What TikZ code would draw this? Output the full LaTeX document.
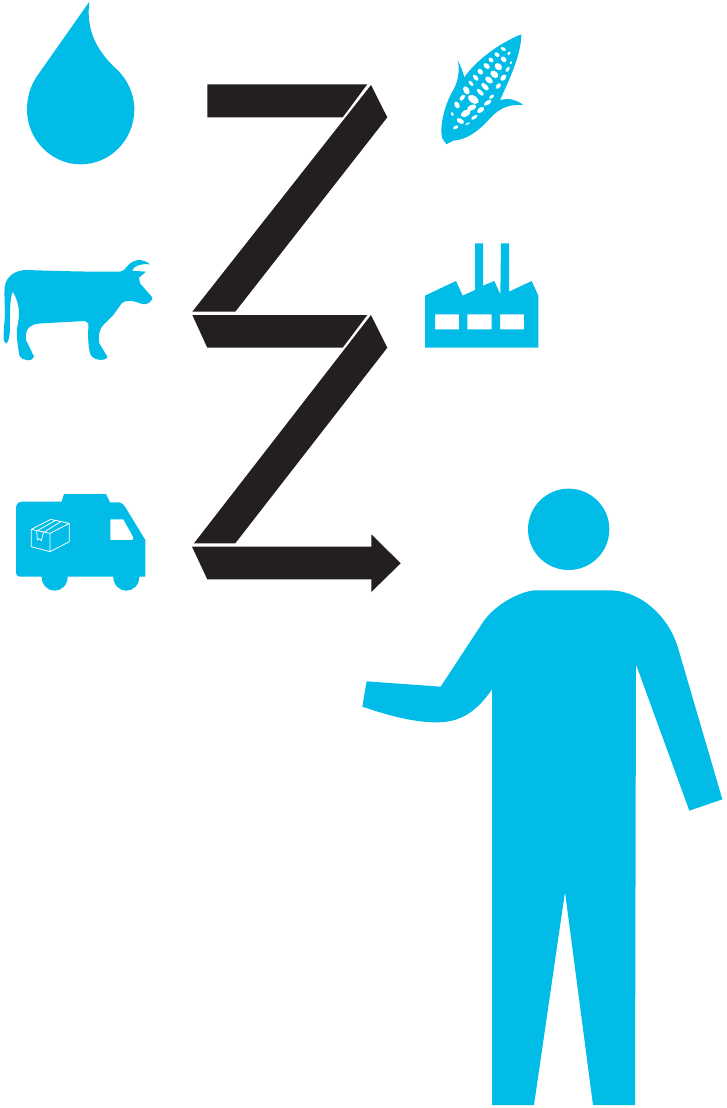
\documentclass[tikz,border=0pt]{standalone}
\definecolor{iconblue}{HTML}{00BCE7}
\definecolor{ribbon}{HTML}{231F20}
\tikzset{
  icon/.style={fill=iconblue,draw=none},
  band/.style={fill=ribbon,draw=none},
  hole/.style={fill=white,draw=none},
  boxline/.style={draw=white,line width=0.6pt,line join=round},
  zoomat/.style 2 args={shift={(#1*0.75pt,-#2*0.75pt)},x=0.25pt,y=-0.25pt}
}
\newcommand{\seed}[5]{\fill[hole,shift={(#1,#2)},rotate=-#5] (0,0) ellipse [x radius=#3*1.2,y radius=#4*1.2];}
\begin{document}
\begin{tikzpicture}[x=0.75pt,y=-0.75pt]
\useasboundingbox (0,0) rectangle (726,1108);
% ribbon
\fill[band] (207.3,84.3) -- (367.3,84.3) -- (342.7,117.3) -- (207.3,117.3) -- cycle;
\fill[band] (371,85) -- (387.3,117.3) -- (235.3,311.7) -- (192.3,311.7) -- cycle;
\fill[band] (192.3,315) -- (367.3,315) -- (342.7,347.7) -- (207.3,347.7) -- cycle;
\fill[band] (371,315) -- (387.3,347.7) -- (235.3,543.3) -- (194,543.3) -- cycle;
\fill[band] (192,546.7) -- (371.3,546.7) -- (371.3,534.3) -- (400.7,563.3) -- (371.3,592) -- (371.3,579.3) -- (207.3,579.3) -- cycle;
% drop
\begin{scope}[zoomat={15}{0}]
\fill[icon] (223,5) -- (65,230) .. controls (45,260) and (36,295) .. (36,328)
 .. controls (36,420) and (110,493) .. (197,493)
 .. controls (285,493) and (358,420) .. (358,328)
 .. controls (358,280) and (335,235) .. (305,208)
 .. controls (265,170) and (210,110) .. (223,5) -- cycle;
\end{scope}
% cow
\begin{scope}[zoomat={0}{240}]
\fill[icon] (80,90) .. controls (170,93) and (280,96) .. (360,95) .. controls (378,95) and (380,65) .. (415,60)
 .. controls (430,60) and (442,66) .. (450,73) .. controls (425,70) and (400,78) .. (396,92) -- (438,95) -- (417,113)
 -- (420,130) -- (455,170) -- (457,178) .. controls (445,195) and (430,195) .. (420,190)
 .. controls (395,180) and (375,180) .. (365,190) -- (340,225) -- (310,255)
 .. controls (295,272) and (295,290) .. (298,310) -- (322,350)
 .. controls (322,362) and (285,365) .. (272,345)
 .. controls (262,315) and (265,280) .. (265,250) -- (255,243)
 -- (125,250) .. controls (85,252) and (75,270) .. (78,300) -- (102,350)
 .. controls (100,365) and (65,365) .. (58,345)
 .. controls (52,310) and (48,280) .. (52,260)
 .. controls (60,225) and (60,190) .. (38,155)
 .. controls (28,175) and (30,240) .. (30,270)
 .. controls (28,300) and (22,312) .. (17,310)
 .. controls (8,305) and (10,280) .. (14,240)
 .. controls (16,210) and (12,170) .. (14,140)
 .. controls (20,105) and (50,90) .. (80,90) -- cycle;
\end{scope}
% truck
\begin{scope}[zoomat={0}{480}]
\fill[icon,even odd rule] (48,85) .. controls (48,72) and (55,65) .. (68,65) -- (185,65) -- (192,42) -- (318,42) -- (330,67) -- (355,67)
 .. controls (365,67) and (372,75) .. (378,85) -- (436,180) -- (436,290) -- (418,290)
 .. controls (418,315) and (400,332) .. (379,332) .. controls (358,332) and (340,315) .. (340,290)
 -- (203,290) .. controls (203,315) and (185,332) .. (164,332) .. controls (143,332) and (125,315) .. (125,290)
 -- (60,290) .. controls (52,290) and (48,285) .. (48,278) -- cycle
 (331,118) -- (370,118) -- (399,170) .. controls (402,176) and (400,180) .. (395,180) -- (331,180) -- cycle;
\draw[boxline] (94,148) -- (152,118) -- (208,130) -- (150,160) -- cycle
 (94,148) -- (94,200) -- (150,215) -- (208,185) -- (208,130) (150,160) -- (150,215)
 (110,153) -- (165,122) (130,158) -- (182,125)
 (110,153) -- (112,180) -- (118,176) -- (124,182) -- (130,158);
\end{scope}
% corn
\begin{scope}[zoomat={435}{30}]
\fill[icon] (259,13) .. controls (258,70) and (232,130) .. (195,210)
 .. controls (225,203) and (245,210) .. (265,225)
 .. controls (225,222) and (195,232) .. (165,265)
 .. controls (135,300) and (95,330) .. (55,332)
 -- (34,343) -- (22,325) .. controls (12,290) and (30,220) .. (55,180)
 .. controls (72,150) and (75,110) .. (67,90)
 .. controls (78,108) and (85,130) .. (88,142)
 .. controls (120,95) and (190,40) .. (259,13) -- cycle;
\seed{205}{57}{7}{4}{30}\seed{186}{74}{7}{5}{40}\seed{168}{90}{7}{5}{40}
\seed{155}{108}{9}{6}{40}\seed{136}{125}{8}{6}{50}\seed{122}{143}{9}{5}{50}
\seed{108}{160}{8}{4}{50}\seed{94}{181}{11}{7}{60}\seed{82}{203}{9}{5}{-50}
\seed{66}{225}{9}{6}{60}\seed{52}{252}{5}{3}{60}
\seed{222}{70}{5}{3}{-50}\seed{206}{88}{8}{6}{40}\seed{190}{110}{10}{8}{40}
\seed{178}{133}{11}{8}{40}\seed{162}{150}{11}{7}{40}\seed{150}{170}{12}{6}{45}
\seed{136}{187}{11}{5}{45}\seed{115}{208}{15}{9}{35}\seed{110}{233}{12}{7}{-25}
\seed{92}{250}{13}{8}{-30}\seed{76}{273}{10}{6}{30}\seed{62}{292}{7}{4}{-30}
\seed{228}{98}{4}{3}{-60}\seed{218}{118}{7}{4}{-60}\seed{205}{143}{9}{6}{-50}
\seed{190}{168}{8}{5}{-50}\seed{170}{200}{7}{4}{-40}\seed{158}{218}{11}{5}{-35}
\seed{137}{240}{10}{6}{-35}\seed{118}{262}{9}{4}{-35}\seed{98}{281}{6}{2}{-25}
\end{scope}
% factory
\begin{scope}[zoomat={415}{235}]
\fill[icon,even odd rule] (30,182) -- (123,138) -- (143,182) -- (180,165) -- (180,25) -- (204,25) -- (204,152) -- (238,138) -- (256,178) -- (258,25) -- (282,25) -- (282,170) -- (350,138) -- (370,182) -- (370,338) -- (30,338) -- cycle
 (60,238) rectangle (132,283) (157,238) rectangle (230,283) (255,238) rectangle (327,283);
\end{scope}
% person
\begin{scope}[zoomat={355}{480}]
\fill[icon] (641,148) circle [radius=122];
\fill[icon] (540,331) -- (770,331) .. controls (860,335) and (940,410) .. (968,500)
 -- (1102,958) -- (1003,992) -- (843,553) -- (840,1875) -- (714,1875) -- (630,1236) -- (537,1875) -- (411,1875) -- (411,628)
 .. controls (355,710) and (300,727) .. (245,727)
 .. controls (170,727) and (90,703) .. (22,680) -- (35,604) -- (257,620) -- (385,425)
 .. controls (420,375) and (490,335) .. (540,331) -- cycle;
\end{scope}
\end{tikzpicture}
\end{document}
